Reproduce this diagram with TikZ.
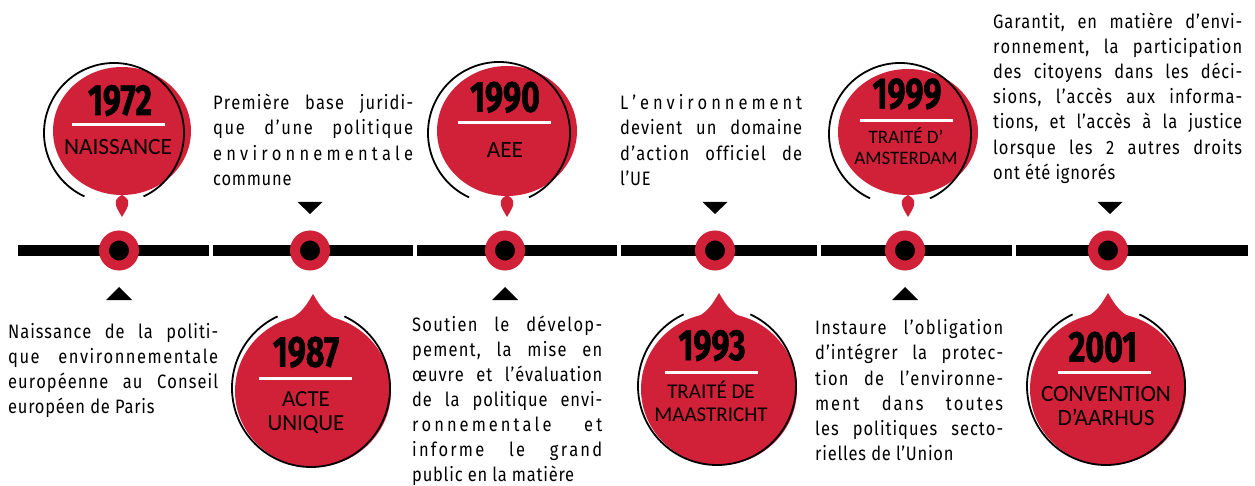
\documentclass[tikz,border=0pt]{standalone}
\usepackage{fontspec}
\setmainfont{Fira Sans}
\newfontfamily\descfont[FakeStretch=0.85,LetterSpace=4]{Fira Sans}
\newfontfamily\yearfont[FakeStretch=0.74,FakeBold=1.2]{Fira Sans}
\newfontfamily\subfont{Carlito}
\usetikzlibrary{calc}
\definecolor{pinred}{RGB}{208,33,57}
\makeatletter
% justified line: letters get a little stretch, word spaces more
\def\sp@letters#1{\@tfor\sp@c:=#1\do{\sp@c\hskip 0pt plus 1pt\relax}}
\def\sp@line#1 #2\@nil{\sp@letters{#1}\unskip
  \def\sp@rest{#2}\ifx\sp@rest\@empty\else
  \hskip\fontdimen2\font plus 9pt\relax\sp@line#2\@nil\fi}
\newcommand\jl[2]{\makebox[#1][s]{\sp@line#2 \@nil}}
\makeatother
% name, cx, cy, rx, ry, dir (1 tip down, -1 tip up), tip length beyond ry
\newcommand\droppin[7]{%
  \coordinate (#1) at (#2,#3);
  \coordinate (#1-tip) at (#2,{#3+#6*(#5+#7)});
  \coordinate (#1-bc) at ({#2-5-3*#6},{#3-0.5+2.5*#6});
  \fill[pinred] (#1) ellipse [x radius=#4, y radius=#5];
  \fill[pinred] ($(#1)+({90*#6-40}:{#4-1} and {#5-1})$) .. controls ($(#1-tip)+(-12,{-20*#6})$) .. (#1-tip)
     .. controls ($(#1-tip)+(12,{-20*#6})$) .. ($(#1)+({90*#6+40}:{#4-1} and {#5-1})$) -- cycle;
  \draw[arcline] ($(#1-bc)+({90*#6+25}:{#4+1})$) arc[start angle={90*#6+25}, end angle={90*#6+335}, radius={#4+1}];
}
\begin{document}
\begin{tikzpicture}[x=1pt,y=-1pt,
  dot/.style={circle, fill=black, draw=pinred, line width=10pt, minimum size=30pt, inner sep=0pt},
  desc/.style={anchor=north west, inner sep=0pt, align=left, font=\descfont\fontsize{19.4pt}{25.2pt}\selectfont},
  year/.style={anchor=base, inner sep=0pt, font=\yearfont\bfseries\fontsize{43.5pt}{43.5pt}\selectfont},
  sub/.style={anchor=base, inner sep=0pt, font=\subfont\fontsize{#1}{#1}\selectfont},
  rulew/.style={draw=white, line width=3pt},
  arcline/.style={draw=black, line width=1.8pt},
]
\fill[white] (0,0) rectangle (1255,486);
\useasboundingbox (0,0) rectangle (1255,486);

% timeline segments
\fill[black] (18,245) rectangle (209,256);
\fill[black] (212.5,245) rectangle (413,256);
\fill[black] (417,245) rectangle (617,256);
\fill[black] (621,245) rectangle (817,256);
\fill[black] (821,245) rectangle (1012,256);
\fill[black] (1016,245) rectangle (1248,256);

% dots
\node[dot] (d1) at (119,250.5) {};
\node[dot] (d2) at (310,250.5) {};
\node[dot] (d3) at (505,250.5) {};
\node[dot] (d4) at (715,250.5) {};
\node[dot] (d5) at (905,250.5) {};
\node[dot] (d6) at (1108,250.5) {};

% triangles
\fill[black] (106,300) -- (132,300) -- (119,287) -- cycle;
\fill[black] (492,300) -- (518,300) -- (505,287) -- cycle;
\fill[black] (892,300) -- (918,300) -- (905,287) -- cycle;
\fill[black] (297.5,202) -- (322.5,202) -- (310,214) -- cycle;
\fill[black] (702.5,202) -- (727.5,202) -- (715,214) -- cycle;
\fill[black] (1097.5,202) -- (1122.5,202) -- (1110,214) -- cycle;

% pins
\droppin{p1}{122}{131}{69}{64}{1}{22}
\droppin{p3}{507}{131}{70}{65}{1}{21}
\droppin{p5}{908}{132}{70}{63}{1}{22}
\droppin{p2}{313}{391}{78}{76}{-1}{21}
\droppin{p4}{719}{389}{78}{76}{-1}{20}
\droppin{p6}{1108}{389}{78}{76}{-1}{20}

% pin texts
\node[year] (y1) at (120,115) {1972};
\draw[rulew] (72,125) -- (165,125);
\node[sub=23.3pt] (s1) at (118,155) {NAISSANCE};

\node[year] (y3) at (505,111.7) {1990};
\draw[rulew] (458,123) -- (551,123);
\node[sub=23.3pt] (s3) at (505,158) {AEE};

\node[year] (y5) at (907,108.3) {1999};
\draw[rulew] (860,121) -- (953,121);
\node[sub=19pt] (s5a) at (906,143.3) {TRAITÉ D’};
\node[sub=19pt] (s5b) at (906,165) {AMSTERDAM};

\node[year] (y2) at (306,366.7) {1987};
\draw[rulew] (259,378) -- (352,378);
\node[sub=23pt] (s2a) at (306,406.7) {ACTE};
\node[sub=23pt] (s2b) at (306,430.5) {UNIQUE};

\node[year] (y4) at (712,360) {1993};
\draw[rulew] (665,372) -- (758,372);
\node[sub=21pt] (s4a) at (711,398.3) {TRAITÉ DE};
\node[sub=21pt] (s4b) at (711,421.7) {MAASTRICHT};

\node[year] (y6) at (1103,361.7) {2001};
\draw[rulew] (1058,372) -- (1151,372);
\node[sub=23.3pt] (s6a) at (1106,401.7) {CONVENTION};
\node[sub=23.3pt] (s6b) at (1106,425) {D’AARHUS};

% descriptions
\node[desc] (t1) at (8,320) {\rule{0pt}{18pt}\jl{210pt}{Naissance de la politi-}\\
  \jl{210pt}{que environnementale}\\
  \jl{210pt}{européenne au Conseil}\\
  européen de Paris};

\node[desc] (t2) at (213,91.5) {\rule{0pt}{18pt}\jl{200pt}{Première base juridi-}\\
  \jl{200pt}{que d’une politique}\\
  \jl{200pt}{environnementale}\\
  commune};

\node[desc, font=\descfont\fontsize{19.4pt}{25pt}\selectfont] (t3) at (412,313.5) {\rule{0pt}{18pt}\jl{190pt}{Soutien le dévelop-}\\
  \jl{190pt}{pement, la mise en}\\
  \jl{190pt}{œuvre et l’évaluation}\\
  \jl{190pt}{de la politique envi-}\\
  \jl{190pt}{ronnementale et}\\
  \jl{190pt}{informe le grand}\\
  public en la matière};

\node[desc] (t4) at (620,91.5) {\rule{0pt}{18pt}\jl{182pt}{L’environnement}\\
  \jl{182pt}{devient un domaine}\\
  \jl{182pt}{d’action officiel de}\\
  l’UE};

\node[desc] (t5) at (815,316.5) {\rule{0pt}{18pt}\jl{188pt}{Instaure l’obligation}\\
  \jl{188pt}{d’intégrer la protec-}\\
  \jl{188pt}{tion de l’environne-}\\
  \jl{188pt}{ment dans toutes}\\
  \jl{188pt}{les politiques secto-}\\
  rielles de l’Union};

\node[desc] (t6) at (993,10) {\rule{0pt}{18pt}\jl{249pt}{Garantit, en matière d’envi-}\\
  \jl{249pt}{ronnement, la participation}\\
  \jl{249pt}{des citoyens dans les déci-}\\
  \jl{249pt}{sions, l’accès aux informa-}\\
  \jl{249pt}{tions, et l’accès à la justice}\\
  \jl{249pt}{lorsque les 2 autres droits}\\
  ont été ignorés};
\end{tikzpicture}
\end{document}
